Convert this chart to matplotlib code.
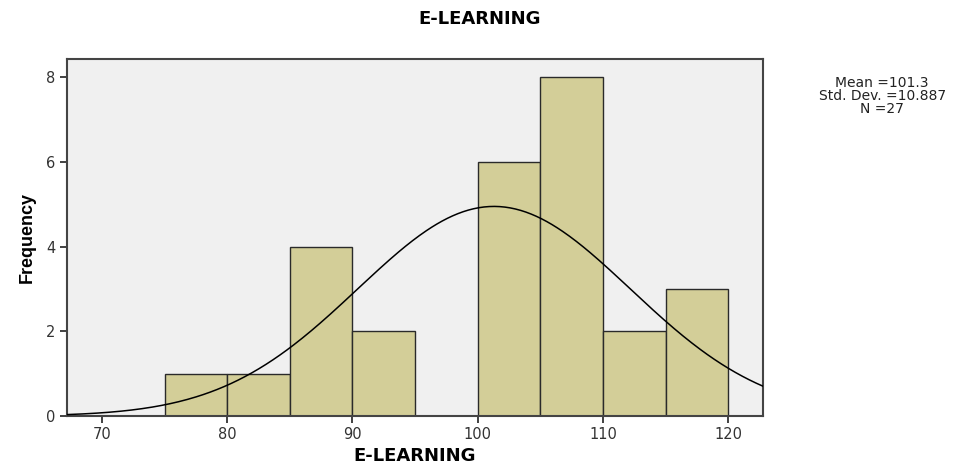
import numpy as np
import matplotlib
matplotlib.use('Agg')
import matplotlib.pyplot as plt

# histogram bins (left edges) and frequencies
bin_edges = [75, 80, 85, 90, 95, 100, 105, 110, 115, 120]
frequencies = [1, 1, 4, 2, 0, 6, 8, 2, 3]
mean = 101.3
std = 10.887
n = 27

# the reference text looks horizontally stretched, DejaVu is the widest option
plt.rcParams['font.family'] = ['DejaVu Sans']

fig = plt.figure(figsize=(9.6, 4.66), dpi=100)
ax = fig.add_axes([0.0698, 0.107, 0.7252, 0.766])
ax.set_facecolor('#f0f0f0')

widths = np.diff(bin_edges)
ax.bar(bin_edges[:-1], frequencies, width=widths, align='edge',
       color='#d3ce98', edgecolor='#2a2a2a', linewidth=1.0, zorder=2)

x = np.linspace(67.2, 122.8, 400)
bw = 5
y = n * bw / (std * np.sqrt(2 * np.pi)) * np.exp(-0.5 * ((x - mean) / std) ** 2)
ax.plot(x, y, color='black', linewidth=1.1, zorder=3)

ax.set_xlim(67.2, 122.8)
ax.set_ylim(0, 8.42)
ax.set_xticks([70, 80, 90, 100, 110, 120])
ax.set_yticks([0, 2, 4, 6, 8])
ax.tick_params(axis='both', length=5, width=1.3, color='#333333',
               labelsize=10.5, labelcolor='#333333')
ax.tick_params(axis='x', pad=2.5)

for s in ax.spines.values():
    s.set_linewidth(1.5)
    s.set_color('#444444')

ax.set_xlabel('E-LEARNING', fontsize=13, fontweight='bold', labelpad=4)
ax.set_ylabel('Frequency', fontsize=13, fontweight='bold', labelpad=7,
              family='Liberation Sans')
fig.suptitle('E-LEARNING', fontsize=13, fontweight='bold', y=0.978)

fig.text(0.919, 0.794, 'Mean =101.3\nStd. Dev. =10.887\nN =27',
         ha='center', va='center', fontsize=10, linespacing=0.9,
         color='#222222')

fig.savefig('out.png', dpi=100)
